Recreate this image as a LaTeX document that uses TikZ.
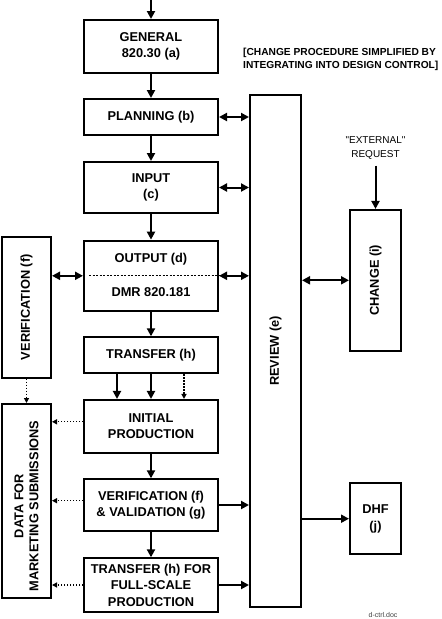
\documentclass[tikz,border=0pt]{standalone}
\usepackage{fontspec}
\usepackage{graphicx}
\setmainfont{Liberation Sans}
\newfontfamily\qfont{Liberation Sans}[Ligatures=TeXOff]
\usetikzlibrary{arrows.meta}
\begin{document}
\begin{tikzpicture}[x=1pt,y=-1pt,
  box/.style={draw, line width=2pt, font=\bfseries\fontsize{12.8}{16.5}\selectfont, align=center, inner sep=0pt},
  lbl/.style={font=\bfseries\fontsize{12.8}{16.5}\selectfont, align=center, inner sep=0pt},
  arr/.style={line width=2pt, -{Triangle[length=8pt,width=8pt]}},
  darr/.style={line width=2pt, {Triangle[length=8pt,width=8pt]}-{Triangle[length=8pt,width=8pt]}},
  dotarr/.style={line width=1.3pt, dash pattern=on 1.5pt off 1.5pt, -{Triangle[length=5pt,width=5pt]}}]
\useasboundingbox (0,0) rectangle (442,619);
% main column
\node[box, minimum width=134pt, minimum height=53pt] (general) at (151,46.5) {GENERAL\\820.30 (a)};
\node[box, minimum width=134pt, minimum height=36pt] (planning) at (151,117) {PLANNING (b)};
\node[box, minimum width=134pt, minimum height=51pt] (input) at (151,187.5) {INPUT\\(c)};
\node[box, minimum width=134pt, minimum height=70.3pt] (output) at (151,275.8) {};
\node[lbl] (outt) at (151,259.5) {OUTPUT (d)};
\node[lbl] (dmr) at (151,292) {DMR 820.181};
\node[box, minimum width=134pt, minimum height=36pt] (transfer) at (151,355.3) {TRANSFER (h)};
\node[box, minimum width=134pt, minimum height=52.7pt] (initial) at (151,426.3) {INITIAL\\PRODUCTION};
\node[box, minimum width=134pt, minimum height=51.4pt] (vv) at (151,505) {VERIFICATION (f)\\\& VALIDATION (g)};
\node[box, minimum width=134pt, minimum height=53.4pt] (tfull) at (151,585) {TRANSFER (h) FOR\\FULL-SCALE\\PRODUCTION};
% review, change, dhf
\node[box, minimum width=51pt, minimum height=512pt] (review) at (275.5,351) {\rotatebox{90}{REVIEW (e)}};
\node[box, minimum width=51pt, minimum height=140.7pt] (change) at (375.5,280.3) {\rotatebox{90}{CHANGE (i)}};
\node[box, minimum width=51pt, minimum height=70.7pt] (dhf) at (375.5,518.7) {DHF\\(j)};
% left column
\node[box, minimum width=49pt, minimum height=141pt] (verif) at (26.5,307.2) {\rotatebox{90}{VERIFICATION (f)}};
\node[box, minimum width=49pt, minimum height=194pt] (data) at (26.5,501) {};
\node[lbl, rotate=90, font=\bfseries\fontsize{12.8}{15}\selectfont] (datat) at (26.5,506) {DATA FOR\\MARKETING SUBMISSIONS};
% annotations
\node[anchor=west, align=left, inner sep=0pt, font=\bfseries\fontsize{10.2}{13}\selectfont] (note) at (243,59.5) {[CHANGE PROCEDURE SIMPLIFIED BY\\INTEGRATING INTO DESIGN CONTROL]};
\node[align=center, inner sep=0pt, font=\qfont\fontsize{10}{14}\selectfont] (ext) at (375.5,148) {"EXTERNAL"\\REQUEST};
\node[inner sep=0pt, font=\fontsize{7}{8}\selectfont, text=black!75] (doc) at (383,615) {d-ctrl.doc};
\coordinate (top) at (151,0);
% dashed line in output
\draw[line width=1pt, dash pattern=on 2pt off 1.5pt] ([xshift=6pt]output.west) -- (output.east);
% main arrows
\draw[arr] (top) -- (general.north);
\draw[arr] (general) -- (planning);
\draw[arr] (planning) -- (input);
\draw[arr] (input) -- (output);
\draw[arr] (output) -- (transfer);
\draw[arr] ([xshift=-34pt]transfer.south) -- ([xshift=-34pt]initial.north);
\draw[arr] (transfer.south) -- (initial.north);
\draw[dotarr] ([xshift=33pt]transfer.south) -- ([xshift=33pt]initial.north);
\draw[arr] (initial) -- (vv);
\draw[arr] (vv) -- (tfull);
% review links
\draw[darr] (planning.east) -- (planning.east -| review.west);
\draw[darr] (input.east) -- (input.east -| review.west);
\draw[darr] (output.east) -- (output.east -| review.west);
\draw[darr] (output.west) -- (output.west -| verif.east);
\draw[arr] (vv.east) -- (vv.east -| review.west);
\draw[arr] (tfull.east) -- (tfull.east -| review.west);
\draw[darr] (change.west -| review.east) -- (change.west);
\draw[arr] (dhf.west -| review.east) -- (dhf.west);
\draw[arr] ([yshift=-6pt]ext.south) -- (change.north);
% dotted links to data
\draw[dotarr] (verif.south) -- (data.north);
\draw[dotarr] ([yshift=4.5pt]initial.west) -- ([yshift=4.5pt]initial.west -| data.east);
\draw[dotarr] ([yshift=4.3pt]vv.west) -- ([yshift=4.3pt]vv.west -| data.east);
\draw[dotarr] (tfull.west) -- (tfull.west -| data.east);
\end{tikzpicture}
\end{document}
